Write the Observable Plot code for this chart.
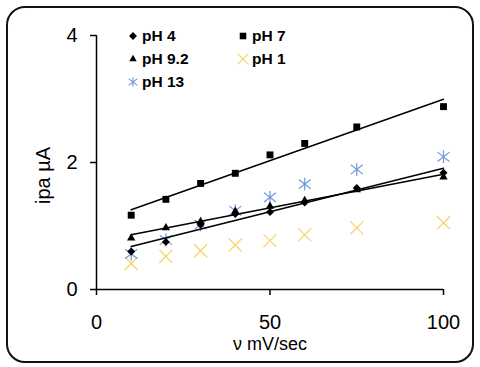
<!DOCTYPE html>
<html>
<head>
<meta charset="utf-8">
<script src="https://cdn.jsdelivr.net/npm/d3@7"></script>
<script src="https://cdn.jsdelivr.net/npm/@observablehq/plot@0.6"></script>
<style>
  body { margin: 0; background: #fff; }
  #wrap { position: relative; width: 480px; height: 367px; font-family: "Liberation Sans", Arial, sans-serif; }
  #frame { position: absolute; left: 6px; top: 6px; width: 464px; height: 353px; border: 2px solid #111; border-radius: 19px; pointer-events: none; }
  #legend { position: absolute; left: 126px; top: 26px; display: grid; grid-template-columns: 110px 100px; row-gap: 4px; font-weight: bold; font-size: 15.5px; }
  #legend .item { display: flex; align-items: center; height: 19px; }
  #legend svg { width: 14px; height: 14px; margin-right: 2px; }
</style>
</head>
<body>
<div id="wrap"><div id="frame"></div><div id="legend"></div></div>
<script>
const speeds = [10, 20, 30, 40, 50, 60, 75, 100];
const pH4  = [0.60, 0.75, 1.02, 1.19, 1.22, 1.37, 1.60, 1.84];
const pH7  = [1.17, 1.42, 1.67, 1.83, 2.12, 2.30, 2.56, 2.88];
const pH92 = [0.81, 0.97, 1.07, 1.23, 1.31, 1.40, 1.57, 1.77];
const pH1  = [0.41, 0.52, 0.61, 0.70, 0.77, 0.86, 0.97, 1.05];
const pH13 = [0.56, 0.78, 1.02, 1.24, 1.45, 1.66, 1.89, 2.09];
const xTicks = [0, 50, 100];
const yTicks = [0, 2, 4];
const seriesNames = ["pH 4", "pH 7", "pH 9.2", "pH 1", "pH 13"];

const rows = (vals) => speeds.map((s, i) => ({x: s, y: vals[i]}));
const d4 = rows(pH4), d7 = rows(pH7), d92 = rows(pH92), d1 = rows(pH1), d13 = rows(pH13);

const yellow = "#f7d161";
const blue = "#7097de";

const star = {
  draw(ctx, size) {
    const r = Math.sqrt(size) * 0.56;
    const dx = r * 0.93, dy = r * 0.72;
    ctx.moveTo(0, -r); ctx.lineTo(0, r);
    ctx.moveTo(-dx, -dy); ctx.lineTo(dx, dy);
    ctx.moveTo(-dx, dy); ctx.lineTo(dx, -dy);
  }
};

const chart = Plot.plot({
  width: 480,
  height: 367,
  marginLeft: 96,
  marginRight: 37,
  marginTop: 35,
  marginBottom: 78,
  style: {fontFamily: "'Liberation Sans', Arial, sans-serif", fontSize: "20px", color: "#000", background: "transparent", overflow: "visible"},
  x: {domain: [0, 100]},
  y: {domain: [0, 4]},
  marks: [
    Plot.ruleY([0], {x1: 0, x2: 100, stroke: "#000", strokeWidth: 1.5}),
    Plot.ruleX([0], {y1: 0, y2: 4, stroke: "#000", strokeWidth: 1.5}),
    Plot.axisX(xTicks, {tickSize: 6, tickPadding: 19, label: null, strokeWidth: 1.5, fontSize: 20, tickFormat: d3.format("d")}),
    Plot.axisY(yTicks, {tickSize: 6, tickPadding: 13, label: null, strokeWidth: 1.5, fontSize: 20, tickFormat: d3.format("d")}),
    Plot.text(["ν mV/sec"], {frameAnchor: "bottom", lineAnchor: "middle", dy: 55, fontSize: 18}),
    Plot.text(["ipa µA"], {frameAnchor: "left", textAnchor: "middle", lineAnchor: "middle", rotate: -90, dx: -53, dy: 13, fontSize: 20}),
    Plot.dot(d1, {x: "x", y: "y", symbol: "times", r: 6, stroke: yellow, strokeWidth: 1.2}),
    Plot.dot(d13, {x: "x", y: "y", symbol: star, r: 6.5, fill: "none", stroke: blue, strokeWidth: 1.2}),
    Plot.linearRegressionY(d7, {x: "x", y: "y", ci: 0, stroke: "#000", strokeWidth: 1.5}),
    Plot.linearRegressionY(d4, {x: "x", y: "y", ci: 0, stroke: "#000", strokeWidth: 1.5}),
    Plot.linearRegressionY(d92, {x: "x", y: "y", ci: 0, stroke: "#000", strokeWidth: 1.5}),
    Plot.dot(d92, {x: "x", y: "y", symbol: "triangle2", r: 4, fill: "#000"}),
    Plot.dot(d4, {x: "x", y: "y", symbol: "diamond2", r: 3.6, fill: "#000"}),
    Plot.dot(d7, {x: "x", y: "y", symbol: "square2", r: 4.4, fill: "#000"})
  ]
});
document.getElementById("wrap").prepend(chart);

// legend
const legendDefs = [
  {name: seriesNames[0], sym: d3.symbolDiamond2, size: 40, fill: "#000", stroke: "none"},
  {name: seriesNames[1], sym: d3.symbolSquare2, size: 55, fill: "#000", stroke: "none"},
  {name: seriesNames[2], sym: d3.symbolTriangle2, size: 40, fill: "#000", stroke: "none"},
  {name: seriesNames[3], sym: d3.symbolTimes, size: 80, fill: "none", stroke: yellow},
  {name: seriesNames[4], sym: star, size: 70, fill: "none", stroke: blue}
];
const legend = d3.select("#legend");
for (const d of legendDefs) {
  const item = legend.append("div").attr("class", "item");
  const svg = item.append("svg").attr("viewBox", "-7 -7 14 14");
  svg.append("path").attr("d", d3.symbol(d.sym, d.size)()).attr("fill", d.fill).attr("stroke", d.stroke).attr("stroke-width", 1.1);
  item.append("span").text(d.name);
}
</script>
</body>
</html>
